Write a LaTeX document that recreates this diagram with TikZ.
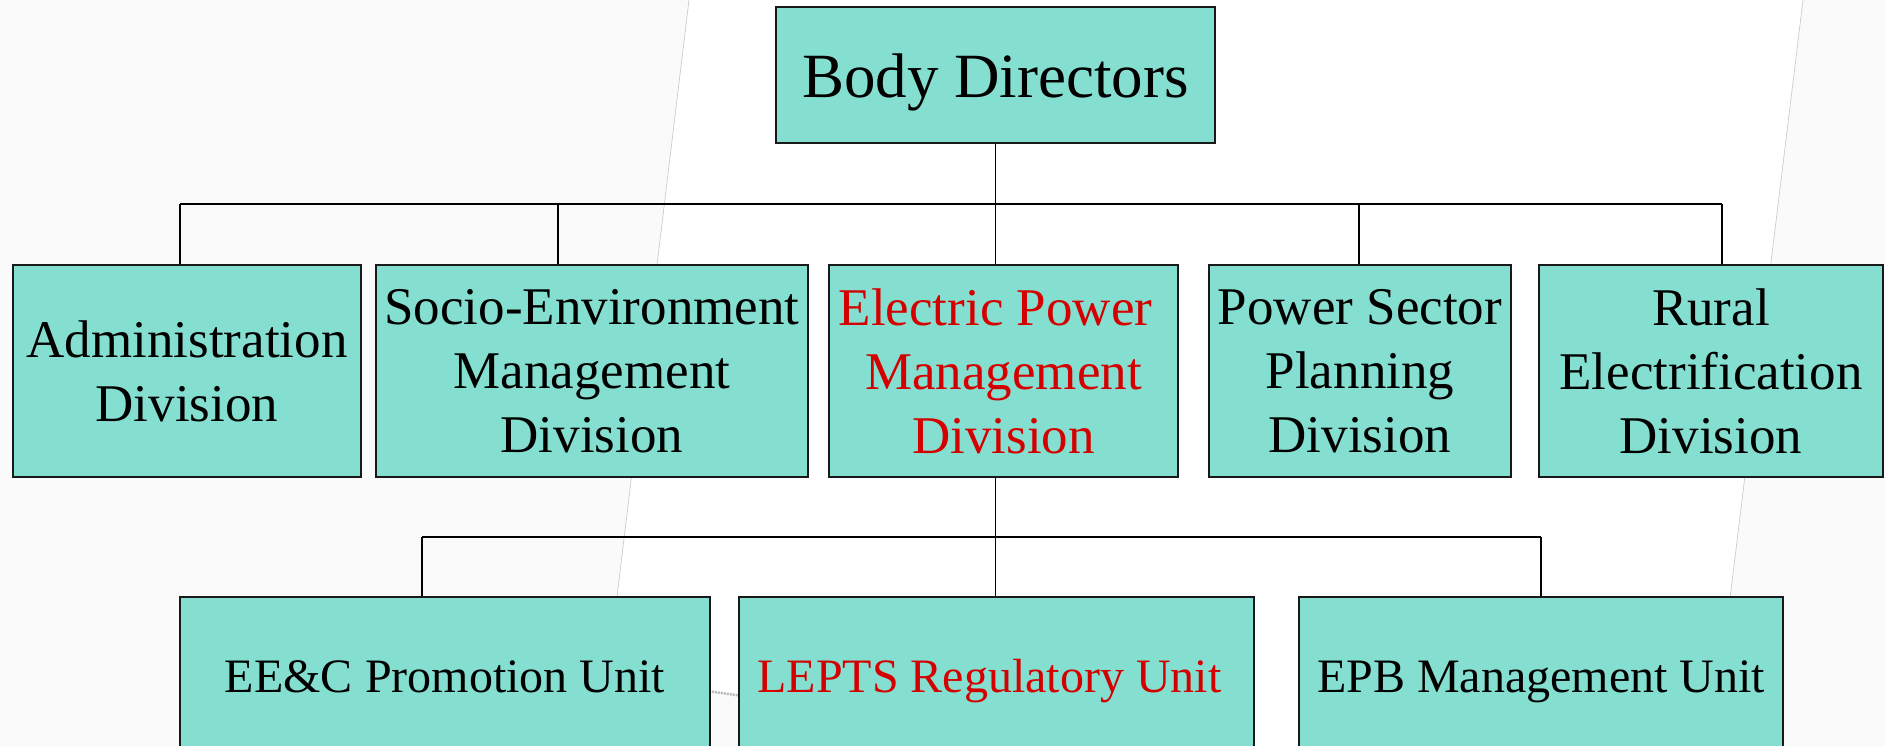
\documentclass[tikz,border=0pt]{standalone}
\usepackage{fontspec}
\setmainfont{Liberation Serif}
\definecolor{boxfill}{HTML}{85DFD1}
\definecolor{redtext}{HTML}{D40000}
\definecolor{texture}{HTML}{FAFAFA}
\tikzset{
  orgbox/.style={draw=black!90, line width=1.8pt, fill=boxfill, inner sep=0pt, align=center},
  divbox/.style={orgbox, font=\fontsize{53}{64}\selectfont},
  unitbox/.style={orgbox, font=\fontsize{48}{58}\selectfont, text height=38pt, text depth=4pt},
  topbox/.style={orgbox, font=\fontsize{63}{76}\selectfont, text height=46pt, text depth=0pt},
  link/.style={draw=black, line width=1.8pt},
  bgedge/.style={draw=gray!45, line width=0.6pt}
}
\begin{document}
\begin{tikzpicture}[x=1pt, y=-1pt]
\useasboundingbox (0,0) rectangle (1885,746);
\clip (0,0) rectangle (1885,746);
% background decoration
\fill[white] (0,0) rectangle (1885,746);
\fill[texture] (0,0) -- (689,0) -- (599,746) -- (0,746) -- cycle;
\draw[bgedge] (689,0) -- (599,746);
\fill[texture] (1803,0) -- (1885,0) -- (1885,746) -- (1712,746) -- cycle;
\draw[bgedge] (1803,0) -- (1712,746);
\fill[texture] (700,690) -- (750,697) -- (750,746) -- (700,746) -- cycle;
\draw[draw=gray!55, line width=2.5pt, dash pattern=on 2pt off 1pt] (700,690) -- (750,697);

% nodes
\node[topbox, minimum width=439pt, minimum height=136pt] (bd) at (995.5,75) {Body Directors};

\node[divbox, minimum width=348pt, minimum height=212pt] (adm) at (187,371) {Administration\\Division};
\node[divbox, minimum width=432pt, minimum height=212pt] (soc) at (592,371) {Socio-Environment\\Management\\Division};
\node[divbox, minimum width=349pt, minimum height=212pt, text=redtext] (epm) at (1003.5,371) {Electric Power\hspace*{16pt}\\Management\\Division};
\node[divbox, minimum width=302pt, minimum height=212pt] (pss) at (1360,371) {Power Sector\\Planning\\Division};
\node[divbox, minimum width=344pt, minimum height=212pt] (red) at (1711,371) {Rural\\Electrification\\Division};

\node[unitbox, minimum width=530pt, minimum height=156pt] (ee) at (445,675) {EE\&C Promotion Unit};
\node[unitbox, minimum width=515pt, minimum height=156pt, text=redtext] (lep) at (996.5,675) {LEPTS Regulatory Unit\hspace{14pt}};
\node[unitbox, minimum width=484pt, minimum height=156pt] (epb) at (1541,675) {EPB Management Unit};

% upper connectors
\coordinate (b1) at (180,204);
\coordinate (b2) at (558,204);
\coordinate (b4) at (1359,204);
\coordinate (b5) at (1722,204);
\draw[link] (b1) -- (b5);
\draw[link] (bd.south) -- (bd.south |- epm.north);
\draw[link] (b1) -- (b1 |- adm.north);
\draw[link] (b2) -- (b2 |- soc.north);
\draw[link] (b4) -- (b4 |- pss.north);
\draw[link] (b5) -- (b5 |- red.north);

% lower connectors
\coordinate (c1) at (422,537);
\coordinate (c2) at (995.5,537);
\coordinate (c3) at (1541,537);
\draw[link] (c1) -- (c3);
\draw[link] (epm.south -| c2) -- (c2 |- lep.north);
\draw[link] (c1) -- (c1 |- ee.north);
\draw[link] (c3) -- (epb.north);
\end{tikzpicture}
\end{document}
